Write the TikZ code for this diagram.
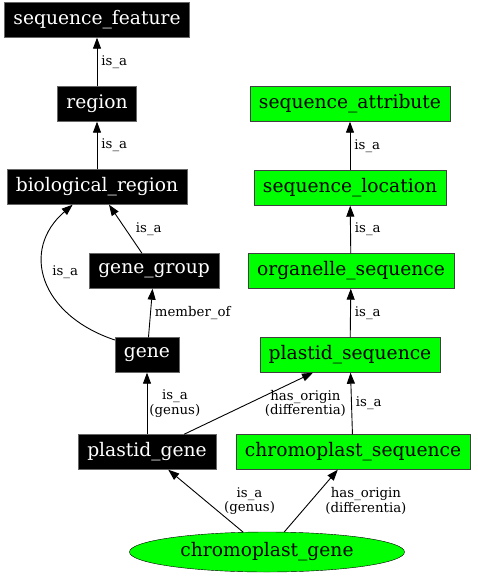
\documentclass[tikz,border=0pt]{standalone}
\usepackage{fontspec}
\setmainfont{DejaVu Serif}
\usetikzlibrary{arrows.meta,shapes.geometric}

\begin{document}
\begin{tikzpicture}[x=1pt, y=-1pt,
	term/.style={minimum height=35pt, inner xsep=9pt, font=\fontsize{18.67}{20}\selectfont},
	blk/.style={term, draw=black!60, fill=black, text=white},
	grn/.style={term, draw=black!75, fill=green},
	lbl/.style={font=\fontsize{13.33}{14.5}\selectfont, align=center, inner sep=2pt},
	rel/.style={-{Triangle[length=11pt,width=8pt]}, line width=.9pt}]
	\useasboundingbox (0,0) rectangle (477,576);
	\node[blk] (sequence_feature) at (97,20) {sequence\_feature};
	\node[blk] (region) at (97,104) {region};
	\node[blk] (biological_region) at (97,187) {biological\_region};
	\node[blk] (gene_group) at (154,271) {gene\_group};
	\node[blk] (gene) at (147,355) {gene};
	\node[blk] (plastid_gene) at (147,452) {plastid\_gene};
	\node[grn] (sequence_attribute) at (350,104) {sequence\_attribute};
	\node[grn] (sequence_location) at (350,188) {sequence\_location};
	\node[grn] (organelle_sequence) at (351,271) {organelle\_sequence};
	\node[grn] (plastid_sequence) at (350,355) {plastid\_sequence};
	\node[grn] (chromoplast_sequence) at (353,452) {chromoplast\_sequence};
	\node[draw=black, fill=green, ellipse, minimum width=275pt, minimum height=40pt, inner sep=0pt, font=\fontsize{18.67}{20}\selectfont] (chromoplast_gene) at (267,552) {chromoplast\_gene};
	\foreach \a/\b in {region/sequence_feature, biological_region/region, sequence_location/sequence_attribute, organelle_sequence/sequence_location, plastid_sequence/organelle_sequence, chromoplast_sequence/plastid_sequence}
		\draw[rel] (\a) -- node[lbl, right, inner xsep=4pt] {is\_a} (\b);
	\draw[rel] (gene_group) -- node[lbl, anchor=west, xshift=8pt] {is\_a} (biological_region);
	\draw[rel] (gene.155) .. controls (40,315) and (20,250) .. node[lbl, anchor=west, xshift=4pt, yshift=8pt] {is\_a} (biological_region.216);
	\draw[rel] (gene) -- node[lbl, right, inner xsep=4pt] {member\_of} (gene_group);
	\draw[rel] (plastid_gene) -- node[lbl, right] {is\_a\\(genus)} (gene);
	\draw[rel] (plastid_gene) -- node[lbl, anchor=west, xshift=14pt] {has\_origin\\(differentia)} (plastid_sequence);
	\draw[rel] (chromoplast_gene) -- node[lbl, anchor=west, xshift=16pt] {is\_a\\(genus)} (plastid_gene);
	\draw[rel] (chromoplast_gene) -- node[lbl, anchor=west, xshift=12pt] {has\_origin\\(differentia)} (chromoplast_sequence);
\end{tikzpicture}
\end{document}
